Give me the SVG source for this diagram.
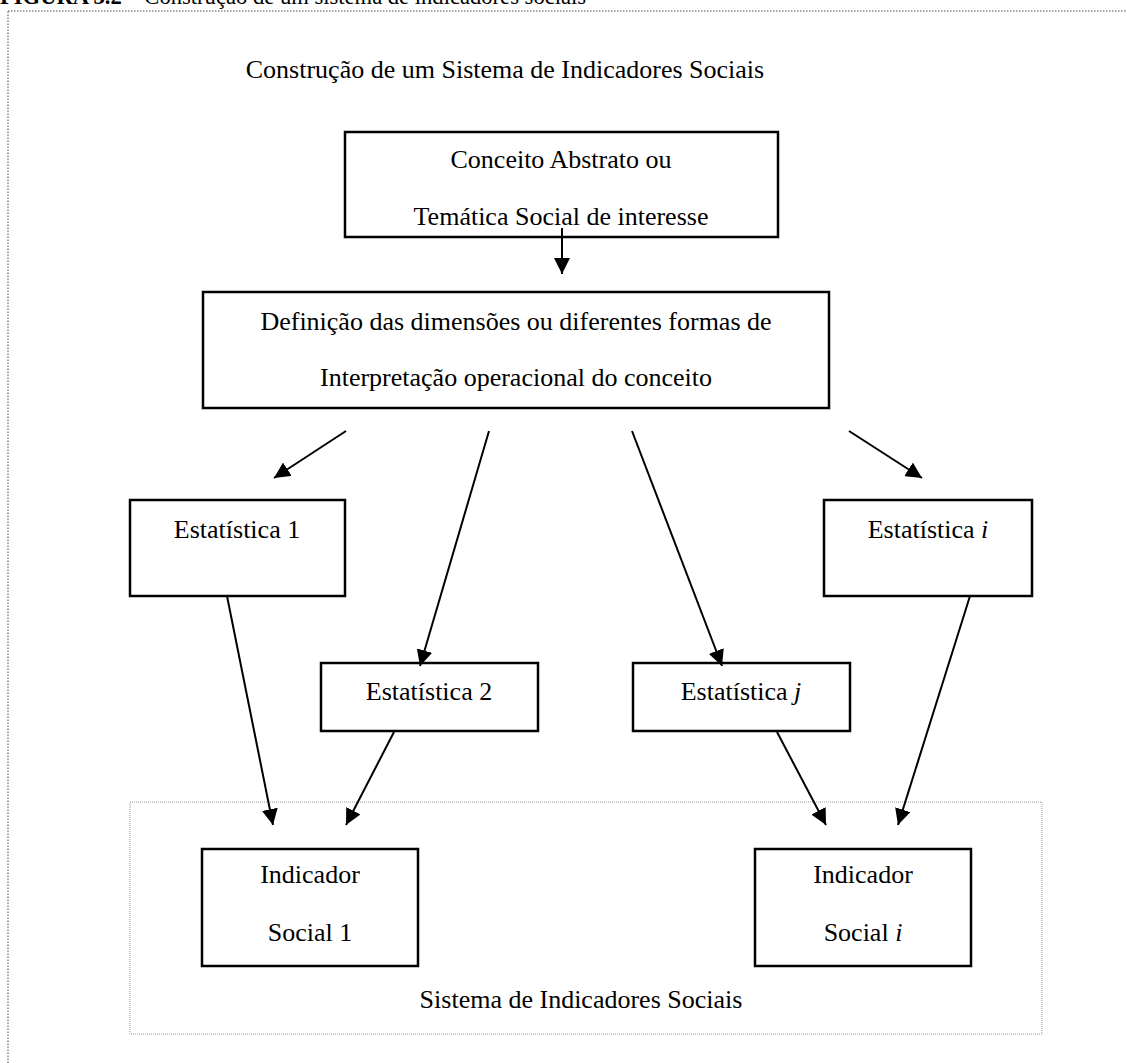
<svg xmlns="http://www.w3.org/2000/svg" width="1127" height="1063" viewBox="0 0 1127 1063">
<style>
text{font-family:"Liberation Serif","Times New Roman",serif;font-size:26px;fill:#000}
.c{text-anchor:middle}
.box{fill:#fff;stroke:#000;stroke-width:2.5}
.con{stroke:#000;stroke-width:2;fill:none;marker-end:url(#ah)}
</style>
<defs>
<marker id="ah" viewBox="0 0 10 10" refX="10" refY="5" markerUnits="userSpaceOnUse" markerWidth="16" markerHeight="16" orient="auto">
<path d="M0,0 L10,5 L0,10 z" fill="#000"/>
</marker>
</defs>
<rect width="1127" height="1063" fill="#fff"/>
<text x="0" y="4" style="font-size:22.6px"><tspan font-weight="bold">FIGURA 3.2</tspan> – Construção de um sistema de indicadores sociais</text>
<rect x="8" y="11" width="1130" height="1070" fill="none" stroke="#888" stroke-width="1.5" stroke-dasharray="1.5 1.5"/>
<text class="c" x="505" y="78">Construção de um Sistema de Indicadores Sociais</text>
<g id="sistema">
<rect x="130" y="802" width="912" height="232" fill="none" stroke="#999" stroke-width="1" stroke-dasharray="1 1"/>
<text class="c" x="581" y="1008">Sistema de Indicadores Sociais</text>
</g>
<g id="conceito">
<rect class="box" x="345" y="132" width="433" height="105"/>
<text class="c" x="561" y="168">Conceito Abstrato ou</text>
<text class="c" x="561" y="225">Temática Social de interesse</text>
</g>
<g id="definicao">
<rect class="box" x="203" y="292" width="626" height="116"/>
<text class="c" x="516" y="330">Definição das dimensões ou diferentes formas de</text>
<text class="c" x="516" y="386">Interpretação operacional do conceito</text>
</g>
<g id="est1">
<rect class="box" x="130" y="500" width="215" height="96"/>
<text class="c" x="237" y="538">Estatística 1</text>
</g>
<g id="esti">
<rect class="box" x="824" y="500" width="208" height="96"/>
<text class="c" x="928" y="538">Estatística <tspan font-style="italic">i</tspan></text>
</g>
<g id="est2">
<rect class="box" x="321" y="663" width="217" height="68"/>
<text class="c" x="429" y="700">Estatística 2</text>
</g>
<g id="estj">
<rect class="box" x="633" y="663" width="217" height="68"/>
<text class="c" x="741" y="700">Estatística <tspan font-style="italic">j</tspan></text>
</g>
<g id="ind1">
<rect class="box" x="202" y="849" width="216" height="117"/>
<text class="c" x="310" y="883">Indicador</text>
<text class="c" x="310" y="941">Social 1</text>
</g>
<g id="indi">
<rect class="box" x="755" y="849" width="216" height="117"/>
<text class="c" x="863" y="883">Indicador</text>
<text class="c" x="863" y="941">Social <tspan font-style="italic">i</tspan></text>
</g>
<g id="connectors">
<line class="con" x1="562" y1="228" x2="562" y2="274"/>
<line class="con" x1="346" y1="431" x2="274" y2="478"/>
<line class="con" x1="489" y1="431" x2="420" y2="666"/>
<line class="con" x1="632" y1="431" x2="722" y2="666"/>
<line class="con" x1="849" y1="431" x2="922" y2="478"/>
<line class="con" x1="227" y1="596" x2="273" y2="825"/>
<line class="con" x1="970" y1="596" x2="898" y2="825"/>
<line class="con" x1="394" y1="732" x2="346" y2="825"/>
<line class="con" x1="777" y1="732" x2="826" y2="825"/>
</g>
</svg>
